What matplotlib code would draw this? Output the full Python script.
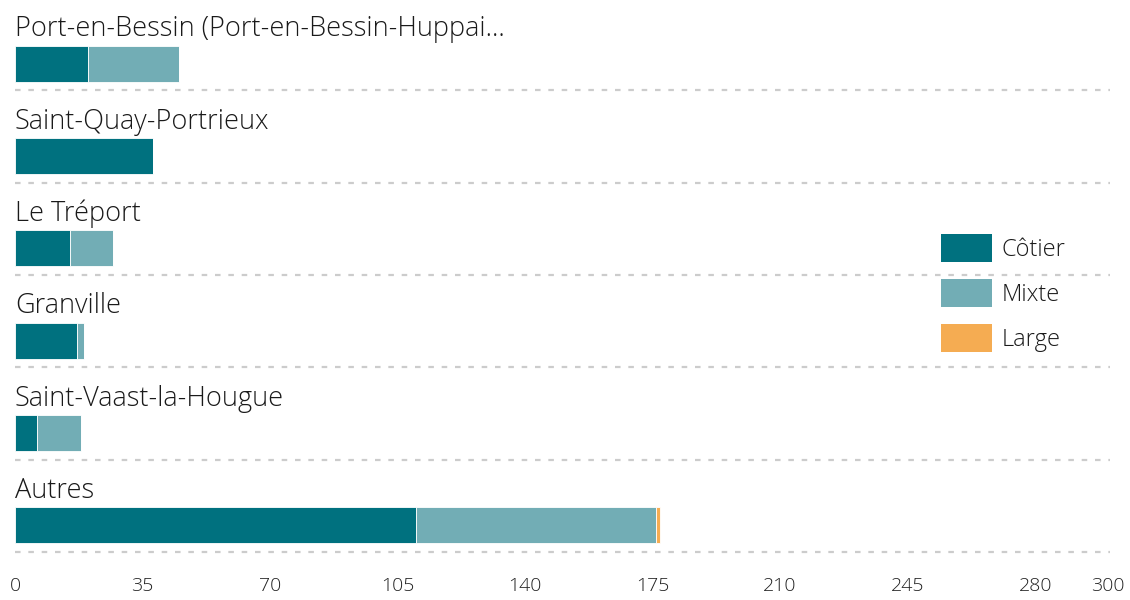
import matplotlib
matplotlib.use("Agg")
import matplotlib.pyplot as plt
from matplotlib.patches import Patch

# data
ports = ["Port-en-Bessin (Port-en-Bessin-Huppai...", "Saint-Quay-Portrieux", "Le Tréport",
         "Granville", "Saint-Vaast-la-Hougue", "Autres"]
cotier = [20, 38, 15, 17, 6, 110]
mixte = [25, 0, 12, 2, 12, 66]
large = [0, 0, 0, 0, 0, 1]
series_names = ["Côtier", "Mixte", "Large"]
colors = ["#00717f", "#72adb5", "#f5ac52"]
xticks = [0, 35, 70, 105, 140, 175, 210, 245, 280, 300]

plt.rcParams['font.family'] = ['Open Sans', 'DejaVu Sans']

fig = plt.figure(figsize=(11.3, 6), dpi=100)
ax = fig.add_axes([15 / 1130, 48 / 600, 1093 / 1130, 552 / 600])

ys = list(range(len(ports)))
left = [0] * len(ports)
for vals, name, col in zip([cotier, mixte, large], series_names, colors):
    ax.barh(ys, vals, left=left, height=0.39, color=col, edgecolor='white', linewidth=0.6, label=name)
    left = [l + v for l, v in zip(left, vals)]

# category names sit above each bar, dotted separator below
for i, name in enumerate(ports):
    ax.text(0, i - 0.295, name, fontsize=19.5, fontweight='light', color='#1a1a1a',
            ha='left', va='baseline')
    ax.plot([0, 300.5], [i + 0.29, i + 0.29], color='#cccccc', lw=1.6, dashes=(2.5, 3.5),
            clip_on=False)

ax.set_xlim(0, 300)
ax.set_ylim(5.29, -0.69)
ax.set_xticks(xticks)
ax.set_xticklabels([str(t) for t in xticks], fontsize=14, fontweight='light', color='#222222')
ax.tick_params(axis='x', length=0, pad=18)
ax.set_yticks([])
for s in ax.spines.values():
    s.set_visible(False)

handles = [Patch(facecolor=c, edgecolor='none') for c in colors]
fig.legend(handles, series_names, loc='upper left', bbox_to_anchor=(941 / 1130, 1 - 234 / 600),
           frameon=False, prop={'size': 17, 'weight': 'light'}, handlelength=2.15, handleheight=1.45,
           handletextpad=0.42, labelspacing=0.72, borderpad=0, borderaxespad=0,
           labelcolor='#1a1a1a')

fig.savefig("out.png", dpi=100)
